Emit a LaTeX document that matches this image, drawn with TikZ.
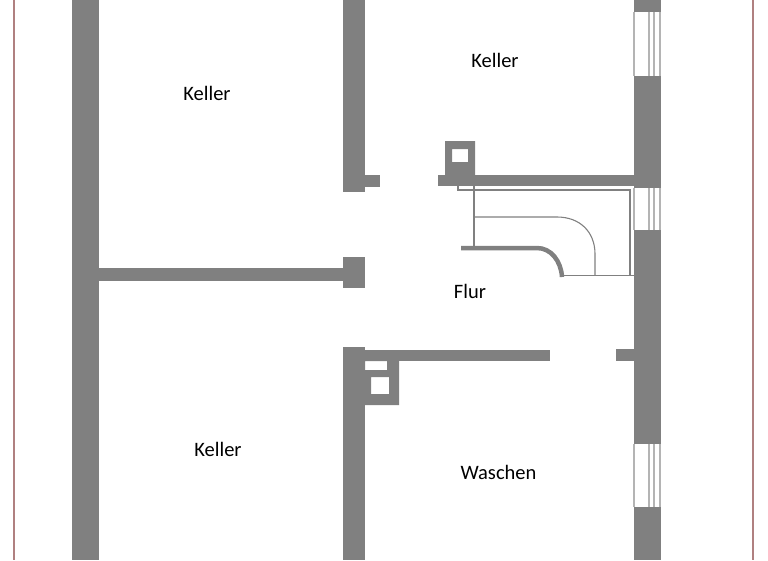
\documentclass[tikz,border=0pt]{standalone}
\usepackage{fontspec}
\setmainfont{Carlito}
\usepackage{xcolor}
\definecolor{wallgray}{HTML}{808080}
\definecolor{paneline}{HTML}{B4B4B4}
\definecolor{edgered}{HTML}{B08080}
\tikzset{
	wall/.style = {fill=wallgray},
	room/.style = {font=\fontsize{20.5}{24}\selectfont, text=black, inner sep=0pt},
	stairline/.style = {draw=wallgray, line width=1.1},
}

\begin{document}
\begin{tikzpicture}[x=1pt, y=-1pt]
	\useasboundingbox (0,0) rectangle (768,560);
	% page edge
	\foreach \x in {14, 753}
		\draw[edgered, line width=2] (\x,0) -- (\x,560);
	% left wall and inner walls
	\fill[wall] (72,0) rectangle (99,560);
	\fill[wall] (343,0) rectangle (365,192);
	\fill[wall] (365,175) rectangle (380,187);
	\fill[wall] (99,268) rectangle (343,281);
	\fill[wall] (343,257) rectangle (365,288);
	\fill[wall] (343,347) rectangle (365,560);
	\fill[wall] (365,350) rectangle (550,361);
	% right wall, windows stay open
	\foreach \a/\b in {0/12, 76/188, 230/444, 507/560}
		\fill[wall] (634,\a) rectangle (661,\b);
	\foreach \a/\b in {12/76, 188/230, 444/507}
		\foreach \x in {634, 649, 654, 660}
			\draw[paneline, line width=1.3] (\x,\a) -- (\x,\b);
	\fill[wall] (616,349) rectangle (634,361);
	% wall at the stairs with chimney
	\fill[wall] (438,175) rectangle (634,186);
	\fill[wall, even odd rule] (445,141) rectangle (475,175) (452,149) rectangle (468,162);
	% chimney in the wash room
	\fill[wall, even odd rule] (365,361) rectangle (399,405) (365,361) rectangle (387,370) (371,377) rectangle (389,394);
	% stairs
	\draw[wallgray, line width=1.7] (458,186) -- (458,190) -- (630,190) -- (630,276);
	\draw[stairline] (474,186) -- (474,248);
	\draw[stairline] (474,217) -- (557,217) .. controls (580,217) and (595,232) .. (595,254) -- (595,275.5);
	\draw[stairline] (562,275.5) -- (634,275.5);
	\draw[wallgray, line width=4.5] (461,248) -- (537,248) .. controls (551,248) and (561,261) .. (562,277);
	% rooms
	\node[room] (kellerleft) at (207,93.5) {Keller};
	\node[room] (kellerright) at (495,60.5) {Keller};
	\node[room] (kellerlow) at (218,449.5) {Keller};
	\node[room] (flur) at (470,291.5) {Flur};
	\node[room] (waschen) at (498.5,472.5) {Waschen};
\end{tikzpicture}
\end{document}
